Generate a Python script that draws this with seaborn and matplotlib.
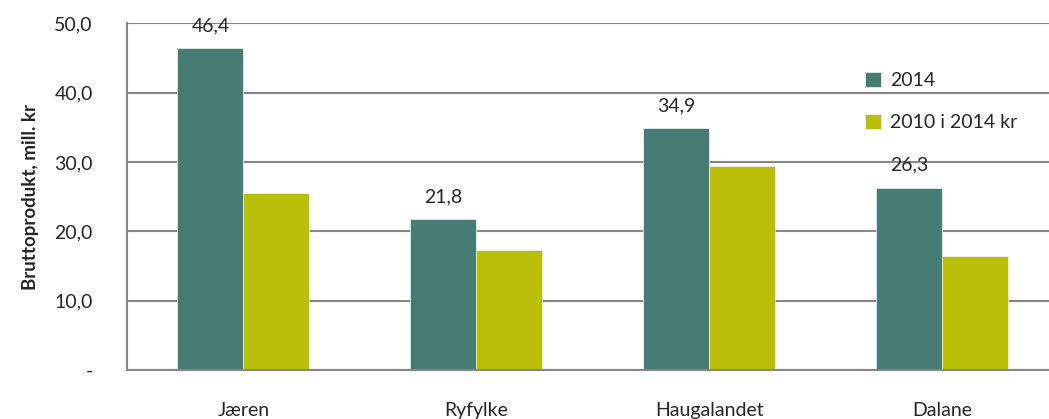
import pandas as pd
import numpy as np
import matplotlib
matplotlib.use("Agg")
import matplotlib.pyplot as plt
import seaborn as sns
from matplotlib.ticker import FixedLocator, FuncFormatter

# data
regions = ["Jæren", "Ryfylke", "Haugalandet", "Dalane"]
series = ["2014", "2010 i 2014 kr"]
values_2014 = [46.4, 21.8, 34.9, 26.3]
values_2010 = [25.6, 17.3, 29.4, 16.4]
yticks = [0, 10, 20, 30, 40, 50]

df = pd.DataFrame({
    "region": regions * 2,
    "serie": [series[0]] * 4 + [series[1]] * 4,
    "verdi": values_2014 + values_2010,
})

sns.set_style("white")
plt.rcParams["font.family"] = ["Lato", "DejaVu Sans"]

teal = "#477C74"
olive = "#B9C007"
grid_col = "#868686"
fs = 14

fig = plt.figure(figsize=(10.49, 4.19), dpi=100)
ax = fig.add_axes([0.121, 0.117, 0.888, 0.827])

sns.barplot(data=df, x="region", y="verdi", hue="serie", hue_order=series,
            palette=[teal, olive], saturation=1, width=0.566, gap=0, ax=ax,
            edgecolor="#e8efe8", linewidth=0.6, errorbar=None)

ax.set_ylim(0, 50)
ax.set_xlim(-0.5, 3.5)
ax.yaxis.set_major_locator(FixedLocator(yticks))
ax.yaxis.set_major_formatter(FuncFormatter(
    lambda v, p: "-" if v == 0 else f"{v:.1f}".replace(".", ",")))
ax.grid(axis="y", color=grid_col, linewidth=1.5)
ax.set_axisbelow(True)

for s in ["top", "right"]:
    ax.spines[s].set_visible(False)
for s in ["left", "bottom"]:
    ax.spines[s].set_color(grid_col)
    ax.spines[s].set_linewidth(1.5)

ax.tick_params(axis="y", length=6.5, width=1.5, color=grid_col, labelsize=fs, pad=18)
ax.tick_params(axis="x", which="major", length=0, labelsize=fs, pad=23)
ax.set_xticks([-0.5, 0.5, 1.5, 2.5, 3.5], minor=True)
ax.tick_params(axis="x", which="minor", length=6, width=1.5, color=grid_col)

ax.set_xlabel("")
ax.set_ylabel("Bruttoprodukt, mill. kr", fontsize=13.5, fontweight="bold", labelpad=11)

# data labels on the 2014 bars only
ax.bar_label(ax.containers[0], labels=[f"{v:.1f}".replace(".", ",") for v in values_2014],
             padding=10, fontsize=fs)

ax.legend(loc="upper left", bbox_to_anchor=(0.792, 0.86), frameon=False,
          borderaxespad=0, borderpad=0,
          fontsize=fs, handlelength=0.85, handleheight=0.85, handletextpad=0.45,
          labelspacing=1.25)

plt.savefig("out.png", dpi=100)
plt.close()
